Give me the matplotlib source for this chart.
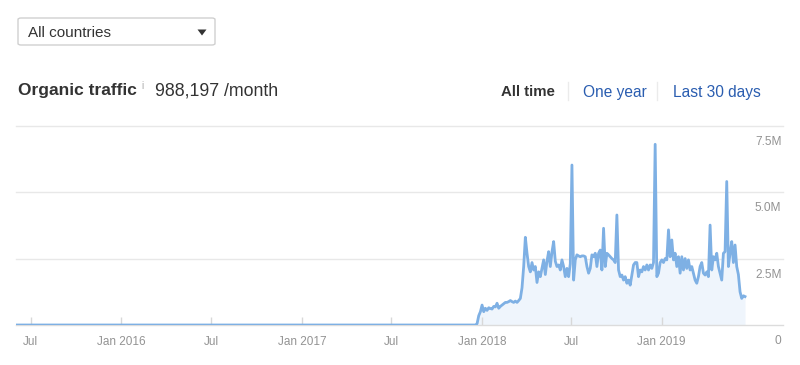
import matplotlib
matplotlib.use("Agg")
import matplotlib.pyplot as plt
import matplotlib.transforms as mtransforms
from matplotlib.patches import FancyBboxPatch, Polygon
import pandas as pd

plt.rcParams['font.family'] = ['Liberation Sans', 'DejaVu Sans']

# ---------------- data ----------------
series_start = "2015-06-01"
active_start = "2017-12-19"
active_end = "2019-06-19"
# organic traffic, millions, evenly spaced between active_start and active_end
traffic_m = [
    0.0, 0.05, 0.35, 0.5, 0.75, 0.5, 0.63, 0.55, 0.65, 0.62,
    0.6, 0.7, 0.68, 0.82, 0.63, 0.7, 0.75, 0.8, 0.85, 0.85,
    0.88, 0.92, 0.88, 0.85, 0.9, 0.85, 0.92, 1.0, 1.4, 2.2,
    3.3, 2.7, 2.2, 2.0, 2.35, 2.07, 2.2, 1.6, 2.0, 1.82,
    2.13, 2.45, 1.9, 2.4, 2.76, 2.2, 2.75, 3.14, 2.4, 2.2,
    2.26, 2.07, 2.45, 2.2, 1.82, 2.13, 1.82, 2.3, 6.02, 1.69,
    2.45, 2.64, 2.6, 2.57, 2.6, 2.6, 2.57, 2.2, 1.95, 2.13,
    2.64, 2.57, 2.7, 2.2, 2.7, 2.82, 2.07, 3.64, 2.2, 2.7,
    2.64, 2.57, 2.5, 2.45, 2.35, 4.14, 2.07, 1.82, 1.88, 1.69,
    1.82, 1.57, 1.69, 1.5, 1.88, 2.26, 2.35, 2.35, 1.82, 2.07,
    2.0, 2.2, 2.07, 2.26, 2.07, 2.26, 2.13, 2.35, 6.8, 1.82,
    1.95, 2.35, 2.45, 2.35, 2.5, 2.45, 3.58, 2.57, 3.2, 2.45,
    2.7, 2.2, 2.57, 1.95, 2.57, 2.07, 2.5, 2.13, 2.45, 2.07,
    2.2, 1.95, 1.69, 1.57, 1.82, 2.2, 2.35, 1.95, 1.88, 2.0,
    1.82, 3.76, 2.07, 2.57, 2.45, 2.7, 2.2, 1.95, 1.69, 2.7,
    2.76, 5.4, 2.2, 2.7, 3.14, 2.35, 3.01, 2.2, 1.9, 1.25,
    1.0, 1.1, 1.07,
]
xlim_dates = ["2015-06-01", "2019-09-04"]
xtick_dates = ["2015-07-01", "2016-01-01", "2016-07-01", "2017-01-01",
               "2017-07-01", "2018-01-01", "2018-07-01", "2019-01-01"]
xtick_labels = ["Jul", "Jan 2016", "Jul", "Jan 2017", "Jul", "Jan 2018",
                "Jul", "Jan 2019"]
ytick_values = [0, 2.5e6, 5.0e6, 7.5e6]
ytick_labels = ["0", "2.5M", "5.0M", "7.5M"]

title = "Organic traffic"
headline_value = "988,197 /month"
country = "All countries"
ranges = ["All time", "One year", "Last 30 days"]

# ---------------- figure ----------------
W, H = 800, 365
fig = plt.figure(figsize=(W / 100, H / 100), dpi=100)
fig.patch.set_facecolor("white")


def fx(x):
    return x / W


def fy(y):
    return 1 - y / H


ax_l, ax_r, ax_t, ax_b = 16, 783, 125.7, 325
ax = fig.add_axes([fx(ax_l), fy(ax_b), (ax_r - ax_l) / W, (ax_b - ax_t) / H])

act_dates = pd.date_range(active_start, active_end, periods=len(traffic_m))
dates = [pd.Timestamp(series_start)] + list(act_dates)
vals = [0.0] + [v * 1e6 for v in traffic_m]

line_c = "#7eb0e4"
fill_c = "#eff5fc"
ax.fill_between(dates, vals, 0, color=fill_c, lw=0, zorder=1)

for v in ytick_values[1:]:
    ax.axhline(v, color="#e8e8e8", lw=1, clip_on=False, zorder=0)

ax.plot(dates, vals, color=line_c, lw=2.0, solid_joinstyle="round", zorder=3)

ax.set_xlim(pd.Timestamp(xlim_dates[0]), pd.Timestamp(xlim_dates[1]))
ax.set_ylim(ytick_values[0], ytick_values[-1])

for s in ["top", "left", "right"]:
    ax.spines[s].set_visible(False)
ax.spines["bottom"].set_color("#dcdcdc")
ax.spines["bottom"].set_linewidth(1)

ax.set_xticks([pd.Timestamp(d) for d in xtick_dates])
ax.set_xticklabels(xtick_labels)
ax.tick_params(axis="x", direction="in", length=6, width=1, color="#d8d8d8",
               labelsize=8.5, labelcolor="#939393", pad=8)
ax.set_yticks([])

trans = mtransforms.offset_copy(ax.get_yaxis_transform(), fig=fig, y=-16, units="dots")
for v, lab in zip(ytick_values, ytick_labels):
    ax.text(0.998, v, lab, transform=trans, ha="right", va="center",
            fontsize=8.6, color="#939393", clip_on=False)

# ---------------- header ----------------
box = FancyBboxPatch((fx(18), fy(45)), fx(215) - fx(18), fy(18) - fy(45),
                     boxstyle="round,pad=0,rounding_size=0.004",
                     transform=fig.transFigure, facecolor="white",
                     edgecolor="#d0d0d0", lw=1)
fig.patches.append(box)
fig.text(fx(28), fy(33), country, fontsize=11, color="#333333", va="center", ha="left")
tri = Polygon([(fx(197.5), fy(29.5)), (fx(206.5), fy(29.5)), (fx(202), fy(35.5))],
              closed=True, transform=fig.transFigure, facecolor="#333333",
              edgecolor="none")
fig.patches.append(tri)

fig.text(fx(18), fy(90.5), title, fontsize=12.5, fontweight="bold",
         color="#333333", va="center", ha="left")
fig.text(fx(141), fy(86), "i", fontsize=7, color="#aaaaaa", va="center", ha="left")
fig.text(fx(155), fy(90.5), headline_value, fontsize=12.8, color="#333333",
         va="center", ha="left")

fig.text(fx(501), fy(92), ranges[0], fontsize=10.8, fontweight="bold",
         color="#333333", va="center", ha="left")
fig.text(fx(583), fy(92), ranges[1], fontsize=11.2, color="#2a5db0",
         va="center", ha="left")
fig.text(fx(673), fy(92), ranges[2], fontsize=11.2, color="#2a5db0",
         va="center", ha="left")
for sx in (568, 657):
    fig.add_artist(plt.Line2D([fx(sx), fx(sx)], [fy(82), fy(100)],
                              transform=fig.transFigure, color="#ebebeb", lw=1))

fig.savefig("out.png", dpi=100, facecolor="white")
